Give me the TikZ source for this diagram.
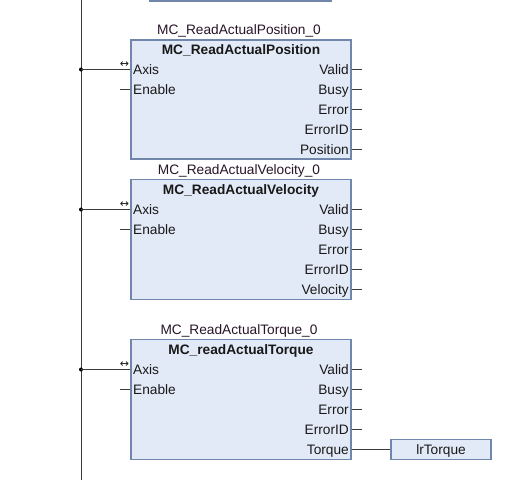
\documentclass[tikz,border=0pt]{standalone}
\usepackage{fontspec}
\setmainfont{Liberation Sans}
\newfontfamily\symfont{DejaVu Sans}
\definecolor{fbfill}{RGB}{226,234,247}
\definecolor{fbdraw}{RGB}{112,134,170}
\definecolor{wire}{RGB}{60,60,60}
\definecolor{txt}{RGB}{25,25,25}
\tikzset{
  fbbox/.style={draw=fbdraw, fill=fbfill, line width=1.3pt, inner sep=0pt},
  fbtitle/.style={font=\fontsize{13.7}{14}\selectfont\bfseries, text=txt, inner sep=0pt, anchor=base},
  inst/.style={font=\fontsize{13.7}{14}\selectfont, text=txt!85!violet, inner sep=0pt, anchor=base},
  pinin/.style={font=\fontsize{13.7}{14}\selectfont, text=txt, anchor=base west, inner sep=0pt},
  pinout/.style={font=\fontsize{13.7}{14}\selectfont, text=txt, anchor=base east, inner sep=0pt},
  wireline/.style={draw=wire, line width=0.9pt},
  inout/.style={font=\symfont\fontsize{11}{11}\selectfont, text=txt, inner sep=0pt},
  vardot/.style={circle, fill=black, inner sep=0pt, minimum size=4pt},
}
\begin{document}
\begin{tikzpicture}[x=1pt,y=-1pt]
\useasboundingbox (0,0) rectangle (506,480);
\fill[white] (0,0) rectangle (506,480);
% top partially visible box
\path[fbbox] (150,-5) rectangle (331,1);
% rail
\coordinate (railtop) at (81,0);
\coordinate (railbot) at (81,480);
\draw[wireline] (railtop) -- (railbot);

% ---------- Block 1 ----------
\node[fbbox, minimum width=220pt, minimum height=119pt] (b1) at (241,99.5) {};
\node[inst] (i1) at (239,34) {MC\_ReadActualPosition\_0};
\node[fbtitle] (t1) at (241,54) {MC\_ReadActualPosition};
\node[pinin] (b1ax) at (133,74) {Axis};
\node[pinin] (b1en) at (133,94) {Enable};
\node[pinout] (b1o1) at (349,74) {Valid};
\node[pinout] (b1o2) at (349,94) {Busy};
\node[pinout] (b1o3) at (349,114) {Error};
\node[pinout] (b1o4) at (349,134) {ErrorID};
\node[pinout] (b1o5) at (349,154) {Position};
\coordinate (r1) at (81,69.5);
\node[vardot] (d1) at (r1) {};
\draw[wireline] (d1.center) -- (b1.west |- r1);
\node[inout] (s1) at (124.5,64.5) {↔};
\coordinate (e1) at (120,89.5);
\draw[wireline] (e1) -- (b1.west |- e1);
\foreach \k/\yy in {1/69.5,2/89.5,3/109.5,4/129.5,5/149.5}{
  \coordinate (q1\k) at (362,\yy);
  \draw[wireline] (b1.east |- q1\k) -- (q1\k);
}

% ---------- Block 2 ----------
\node[fbbox, minimum width=220pt, minimum height=120pt] (b2) at (241,239.5) {};
\node[inst] (i2) at (239,174) {MC\_ReadActualVelocity\_0};
\node[fbtitle] (t2) at (241,194) {MC\_ReadActualVelocity};
\node[pinin] (b2ax) at (133,214) {Axis};
\node[pinin] (b2en) at (133,234) {Enable};
\node[pinout] (b2o1) at (349,214) {Valid};
\node[pinout] (b2o2) at (349,234) {Busy};
\node[pinout] (b2o3) at (349,254) {Error};
\node[pinout] (b2o4) at (349,274) {ErrorID};
\node[pinout] (b2o5) at (349,294) {Velocity};
\coordinate (r2) at (81,209.5);
\node[vardot] (d2) at (r2) {};
\draw[wireline] (d2.center) -- (b2.west |- r2);
\node[inout] (s2) at (124.5,204.5) {↔};
\coordinate (e2) at (120,229.5);
\draw[wireline] (e2) -- (b2.west |- e2);
\foreach \k/\yy in {1/209.5,2/229.5,3/249.5,4/269.5,5/289.5}{
  \coordinate (q2\k) at (362,\yy);
  \draw[wireline] (b2.east |- q2\k) -- (q2\k);
}

% ---------- Block 3 ----------
\node[fbbox, minimum width=220pt, minimum height=120pt] (b3) at (241,399.5) {};
\node[inst] (i3) at (239,334) {MC\_ReadActualTorque\_0};
\node[fbtitle] (t3) at (241,354) {MC\_readActualTorque};
\node[pinin] (b3ax) at (133,374) {Axis};
\node[pinin] (b3en) at (133,394) {Enable};
\node[pinout] (b3o1) at (349,374) {Valid};
\node[pinout] (b3o2) at (349,394) {Busy};
\node[pinout] (b3o3) at (349,414) {Error};
\node[pinout] (b3o4) at (349,434) {ErrorID};
\node[pinout] (b3o5) at (349,454) {Torque};
\coordinate (r3) at (81,369.5);
\node[vardot] (d3) at (r3) {};
\draw[wireline] (d3.center) -- (b3.west |- r3);
\node[inout] (s3) at (124.5,364.5) {↔};
\coordinate (e3) at (120,389.5);
\draw[wireline] (e3) -- (b3.west |- e3);
\foreach \k/\yy in {1/369.5,2/389.5,3/409.5,4/429.5}{
  \coordinate (q3\k) at (362,\yy);
  \draw[wireline] (b3.east |- q3\k) -- (q3\k);
}
% output variable
\node[fbbox, line width=1.1pt, minimum width=100pt, minimum height=20pt] (var) at (441,449.5) {};
\node[inst, text=txt] (vart) at (441,454) {lrTorque};
\draw[wireline] (b3.east |- var.west) -- (var.west);
\end{tikzpicture}
\end{document}
